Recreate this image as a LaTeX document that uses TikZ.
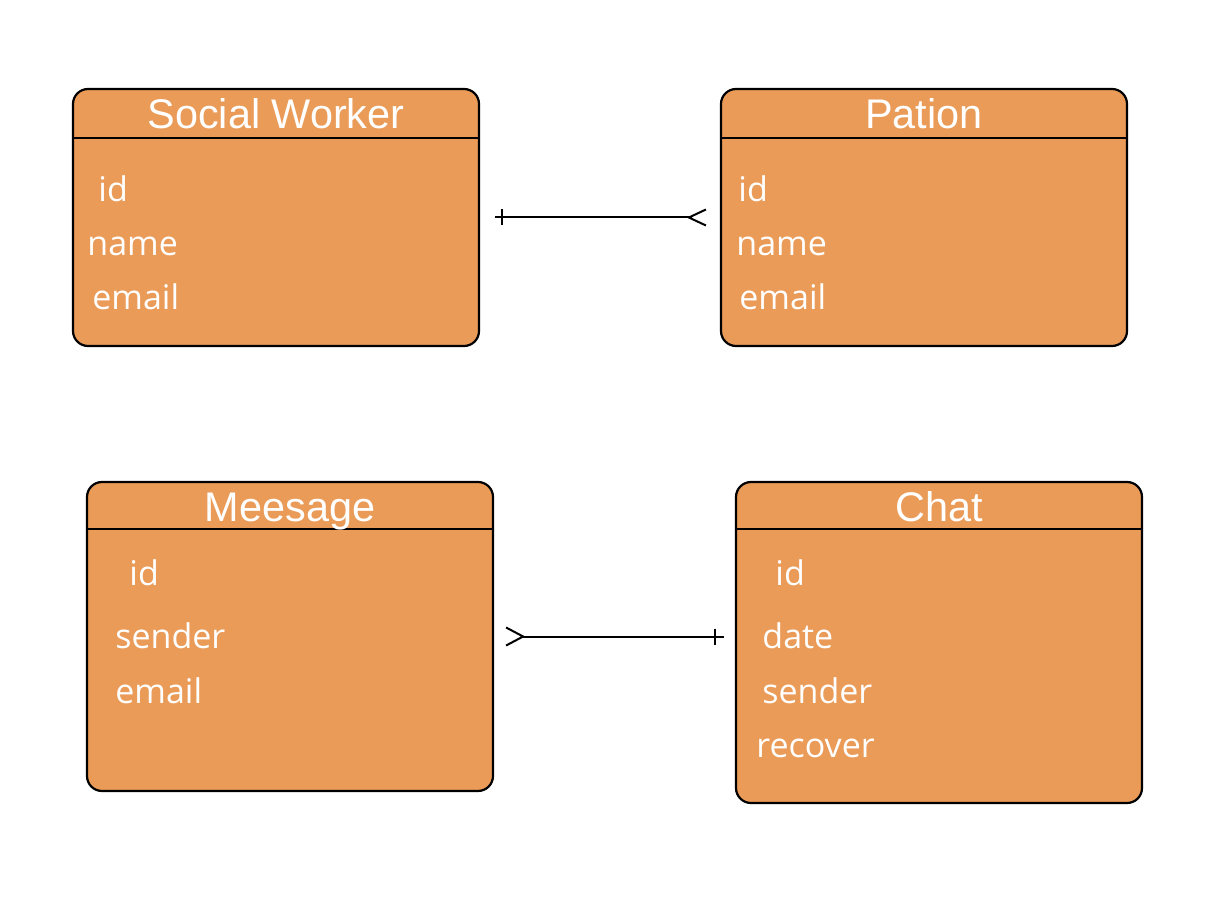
\documentclass[tikz,border=0pt]{standalone}
\usepackage{fontspec}
\setmainfont{Open Sans}
\newfontfamily\headfont{Liberation Sans}
\usetikzlibrary{positioning,calc}
\definecolor{entityorange}{RGB}{234,155,88}
\tikzset{
    entity/.style={draw, line width=1.1pt, fill=entityorange, rounded corners=7.5pt}, % table box
    title/.style={text=white, font=\headfont\fontsize{20.7}{24}\selectfont, inner sep=0pt, anchor=base},
    field/.style={text=white, font=\fontsize{17}{20}\selectfont, inner sep=0pt, anchor=base west, xshift=1pt},
    link/.style={line width=1pt}, % relation lines
}
\begin{document}
\begin{tikzpicture}[x=0.5pt, y=-0.5pt]
    \useasboundingbox (0,0) rectangle (1214,908);

    % tables
    \node[entity, minimum width=203pt, minimum height=128.5pt] (sw) at (276,217.5) {};
    \node[entity, minimum width=203pt, minimum height=128.5pt] (pat) at (924,217.5) {};
    \node[entity, minimum width=203pt, minimum height=154.5pt] (msg) at (290,636.5) {};
    \node[entity, minimum width=203pt, minimum height=160.5pt] (chat) at (939,642.5) {};

    % header lines
    \draw[line width=1.1pt] ($(sw.north west)+(0,50)$) -- ($(sw.north east)+(0,50)$);
    \draw[line width=1.1pt] ($(pat.north west)+(0,50)$) -- ($(pat.north east)+(0,50)$);
    \draw[line width=1.1pt] ($(msg.north west)+(0,48)$) -- ($(msg.north east)+(0,48)$);
    \draw[line width=1.1pt] ($(chat.north west)+(0,48)$) -- ($(chat.north east)+(0,48)$);

    % titles
    \node[title] (sw-t) at ($(sw.north)+(0,41)$) {Social Worker};
    \node[title] (pat-t) at ($(pat.north)+(0,41)$) {Pation};
    \node[title] (msg-t) at ($(msg.north)+(0,41)$) {Meesage};
    \node[title] (chat-t) at ($(chat.north)+(0,41)$) {Chat};

    % fields
    \node[field] (sw-id) at (96,202) {id};
    \node[field] (sw-name) at (85,256) {name};
    \node[field] (sw-email) at (90,310) {email};

    \node[field] (pat-id) at (736,202) {id};
    \node[field] (pat-name) at (734,256) {name};
    \node[field] (pat-email) at (737,310) {email};

    \node[field] (msg-id) at (127,585) {id};
    \node[field] (msg-sender) at (113,648) {sender};
    \node[field] (msg-email) at (113,703) {email};

    \node[field] (chat-id) at (773,585) {id};
    \node[field] (chat-date) at (760,648) {date};
    \node[field] (chat-sender) at (760,703) {sender};
    \node[field] (chat-recover) at (754,757) {recover};

    % relations
    \coordinate (l1s) at ($(sw.east)+(15,0)$);
    \coordinate (l1e) at ($(pat.west)+(-14,0)$);
    \draw[link] (l1s) -- ($(l1e)+(-17,0)$) coordinate (l1c);
    \draw[link] ($(l1s)+(7,-8)$) -- ++(0,16);
    \draw[link] ($(l1e)+(0,-8)$) -- (l1c) -- ($(l1e)+(0,8)$);

    \coordinate (l2s) at ($(msg.east)+(12,0)$);
    \coordinate (l2e) at ($(chat.west |- msg.east)+(-11,0)$);
    \draw[link] ($(l2s)+(17,0)$) coordinate (l2c) -- (l2e);
    \draw[link] ($(l2s)+(0,-9)$) -- (l2c) -- ($(l2s)+(0,9)$);
    \draw[link] ($(l2e)+(-9,-8)$) -- ++(0,16);
\end{tikzpicture}
\end{document}
